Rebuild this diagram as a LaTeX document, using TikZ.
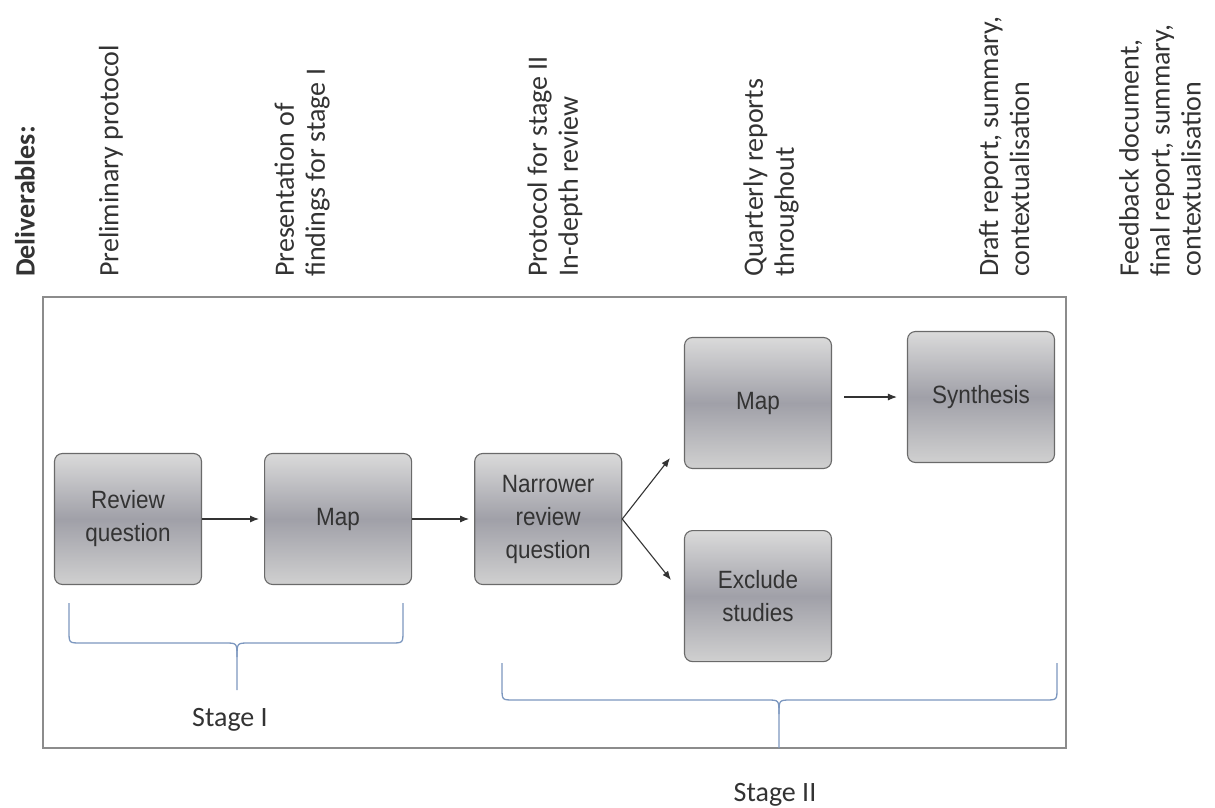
\documentclass[tikz,border=0pt]{standalone}
\usepackage{fontspec}
\setmainfont{Carlito}
\newfontfamily\boxfont{Liberation Sans}[FakeStretch=0.9]
\usetikzlibrary{arrows.meta,positioning,calc}
\definecolor{BoxEdge}{HTML}{6A6A6A}
\definecolor{BoxTop}{HTML}{DADADA}
\definecolor{BoxMid}{HTML}{A0A0A8}
\definecolor{BoxBot}{HTML}{D0D0D0}
\definecolor{Brace}{HTML}{7C97BF}
\definecolor{Frame}{HTML}{8C8C8C}
\definecolor{Ink}{HTML}{333333}

\begin{document}
\begin{tikzpicture}[x=1pt,y=-1pt,node distance=62pt,>={Latex[length=9pt,width=7pt]},
box/.style={draw=BoxEdge,line width=1.1pt,rounded corners=8pt,top color=BoxTop,bottom color=BoxBot,middle color=BoxMid,minimum width=147pt,minimum height=131pt,align=center,text=Ink,font=\boxfont\fontsize{25}{33}\selectfont},
deliv/.style={rotate=90,anchor=west,align=left,inner sep=0pt,text=Ink,font=\fontsize{28}{31}\selectfont},
conn/.style={->,draw=Ink,line width=1.1pt},
brace/.style={draw=Brace,line width=1.3pt},
stage/.style={text=Ink,font=\fontsize{28}{31}\selectfont}]
\useasboundingbox (0,0) rectangle (1215,808);
\draw[Frame,line width=1.5pt] (43,297) rectangle (1066,748);
% deliverables along the top
\node[deliv,font=\bfseries\fontsize{28}{31}\selectfont] (dl) at (25,277) {Deliverables:};
\node[deliv] (d1) at (111,277) {Preliminary protocol};
\node[deliv] (d2) at (302,277) {Presentation of\\findings for stage I};
\node[deliv] (d3) at (555,277) {Protocol for stage II\\In-depth review};
\node[deliv] (d4) at (771,277) {Quarterly reports\\throughout};
\node[deliv] (d5) at (1004,277) {Draft report, summary,\\contextualisation};
\node[deliv] (d6) at (1160,277) {Feedback document,\\final report, summary,\\contextualisation};
% process
\node[box] (rq) at (128,519) {Review\\question};
\node[box,right=of rq] (mapa) {Map};
\node[box,right=of mapa] (narrow) {Narrower\\review\\question};
\node[box] (mapb) at (758,403) {Map};
\node[box,below=61pt of mapb] (excl) {Exclude\\studies};
\node[box] (synth) at (981,397) {Synthesis};
\coordinate (tipa) at (670,458);
\coordinate (tipb) at (671,580);
\draw[conn,shorten >=5pt] (rq) -- (mapa);
\draw[conn,shorten >=5pt] (mapa) -- (narrow);
\draw[conn] (narrow.east) -- (tipa);
\draw[conn] (narrow.east) -- (tipb);
\draw[conn] ([xshift=12pt]mapb.east |- synth.west) -- ([xshift=-10pt]synth.west);
% stage braces
\draw[brace] (69,603) -- (69,631) .. controls (69,643) .. (81,643) -- (225,643) .. controls (237,643) .. (237,657) -- (237,690);
\draw[brace] (403,603) -- (403,631) .. controls (403,643) .. (391,643) -- (249,643) .. controls (237,643) .. (237,657);
\draw[brace] (502,663) -- (502,688) .. controls (502,700) .. (514,700) -- (767,700) .. controls (779,700) .. (779,714) -- (779,748);
\draw[brace] (1057,663) -- (1057,688) .. controls (1057,700) .. (1045,700) -- (791,700) .. controls (779,700) .. (779,714);
\node[stage] (s1) at (230,720) {Stage I};
\node[stage] (s2) at (775,795) {Stage II};
\end{tikzpicture}
\end{document}
